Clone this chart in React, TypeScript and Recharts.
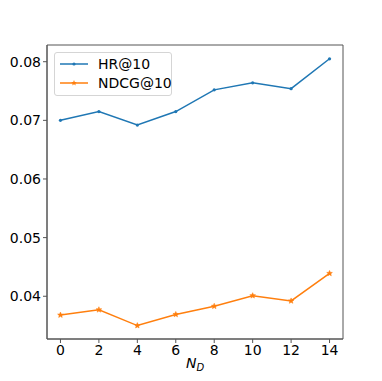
import React from 'react';
import {
  Legend,
  Line,
  LineChart,
  ReferenceArea,
  XAxis,
  YAxis,
} from 'recharts';

const ND_VALUES = [0, 2, 4, 6, 8, 10, 12, 14];
const HR_AT_10 = [0.07, 0.0715, 0.0692, 0.0715, 0.0752, 0.0764, 0.0754, 0.0805];
const NDCG_AT_10 = [0.0368, 0.0377, 0.035, 0.0369, 0.0383, 0.0401, 0.0392, 0.0439];
const X_TICKS = [0, 2, 4, 6, 8, 10, 12, 14];
const Y_TICKS = [0.04, 0.05, 0.06, 0.07, 0.08];

const X_DOMAIN: [number, number] = [-0.7, 14.7];
const Y_DOMAIN: [number, number] = [0.03271, 0.08285];

const BLUE = '#1f77b4';
const ORANGE = '#ff7f0e';
const SPINE = '#555';
const FONT = '"DejaVu Sans", sans-serif';

const data = ND_VALUES.map((nd, i) => ({
  nd,
  hr: HR_AT_10[i],
  ndcg: NDCG_AT_10[i],
}));

function starPath(cx: number, cy: number, r: number) {
  const pts: string[] = [];
  for (let i = 0; i < 10; i++) {
    const rad = i % 2 === 0 ? r : r * 0.45;
    const a = -Math.PI / 2 + (i * Math.PI) / 5;
    pts.push(`${cx + rad * Math.cos(a)},${cy + rad * Math.sin(a)}`);
  }
  return `M${pts.join('L')}Z`;
}

function StarDot(props: any) {
  const { cx, cy } = props;
  if (cx == null || cy == null) return null;
  return <path d={starPath(cx, cy, 3)} fill={ORANGE} stroke={ORANGE} strokeWidth={0.5} />;
}

function LegendBox() {
  const row = (color: string, label: string, star: boolean) => (
    <div style={{ display: 'flex', alignItems: 'center', height: 19, whiteSpace: 'nowrap' }}>
      <svg width={28} height={10} style={{ marginRight: 10, flexShrink: 0 }}>
        <line x1={0} y1={5} x2={28} y2={5} stroke={color} strokeWidth={1.5} />
        {star ? (
          <path d={starPath(14, 5, 3)} fill={color} />
        ) : (
          <circle cx={14} cy={5} r={1.6} fill={color} />
        )}
      </svg>
      <span>{label}</span>
    </div>
  );
  return (
    <div
      style={{
        border: '1px solid #d5d5d5',
        borderRadius: 3,
        background: 'rgba(255,255,255,0.8)',
        padding: '1px 6px 3px 5px',
        fontFamily: FONT,
        fontSize: 14,
        color: '#000',
        width: 118,
        boxSizing: 'border-box',
      }}
    >
      {row(BLUE, 'HR@10', false)}
      {row(ORANGE, 'NDCG@10', true)}
    </div>
  );
}

function XLabel(props: any) {
  const { viewBox } = props;
  const cx = viewBox.x + viewBox.width / 2;
  const y = viewBox.y + 29;
  return (
    <text x={cx} y={y} textAnchor="middle" fontFamily={FONT} fontSize={14} fontStyle="italic" fill="#000">
      <tspan>N</tspan>
      <tspan fontSize={10} dy={3}>D</tspan>
    </text>
  );
}

export default function App() {
  return (
    <div style={{ position: 'absolute', left: 0, top: 0, width: 382, height: 381, background: '#fff' }}>
      <LineChart
        width={382}
        height={381}
        data={data}
        margin={{ top: 45, right: 39, bottom: 0, left: 0 }}
      >
        <XAxis
          dataKey="nd"
          type="number"
          domain={X_DOMAIN}
          ticks={X_TICKS}
          allowDataOverflow
          height={42}
          tickSize={4}
          tickMargin={2}
          stroke={SPINE}
          tick={{ fontSize: 14, fill: '#000', fontFamily: FONT }}
          label={<XLabel />}
        />
        <YAxis
          type="number"
          domain={Y_DOMAIN}
          ticks={Y_TICKS}
          allowDataOverflow
          width={47}
          tickSize={4}
          tickMargin={2}
          stroke={SPINE}
          tickFormatter={(v) => Number(v).toFixed(2)}
          tick={{ fontSize: 14, fill: '#000', fontFamily: FONT }}
        />
        <ReferenceArea
          x1={X_DOMAIN[0]}
          x2={X_DOMAIN[1]}
          y1={Y_DOMAIN[0]}
          y2={Y_DOMAIN[1]}
          fill="none"
          stroke={SPINE}
          strokeWidth={1}
          ifOverflow="visible"
        />
        <Line
          dataKey="hr"
          name="HR@10"
          stroke={BLUE}
          strokeWidth={1.5}
          dot={{ r: 1.6, fill: BLUE, stroke: BLUE, strokeWidth: 0 }}
          isAnimationActive={false}
        />
        <Line
          dataKey="ndcg"
          name="NDCG@10"
          stroke={ORANGE}
          strokeWidth={1.5}
          dot={<StarDot />}
          isAnimationActive={false}
        />
        <Legend
          layout="horizontal"
          verticalAlign="middle"
          align="center"
          content={<LegendBox />}
          wrapperStyle={{ position: 'absolute', left: 54, top: 52, width: 'auto' }}
        />
      </LineChart>
    </div>
  );
}
